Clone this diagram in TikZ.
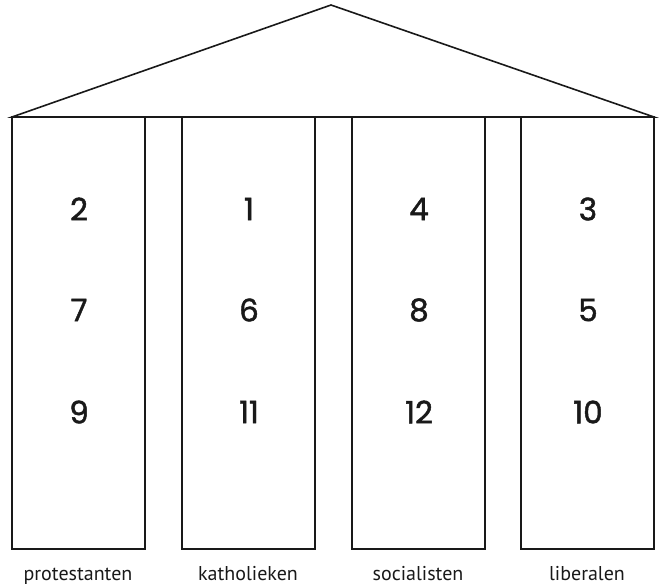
\documentclass[tikz,border=0pt]{standalone}
\usepackage{fontspec}
\setmainfont{PT Sans}
\newfontfamily\numfont{Poppins}[FakeBold=1.5]
\begin{document}
\begin{tikzpicture}[x=1pt,y=-1pt,line width=1.6pt,line join=miter,
  pillar/.style={draw=black!90,line width=1.6pt},
  num/.style={font=\numfont\fontsize{31}{31}\selectfont,text=black!90,anchor=center,inner sep=0pt},
  lab/.style={font=\fontsize{20}{21}\selectfont,text=black!90,anchor=base,inner sep=0pt}]
\useasboundingbox (0,0) rectangle (662,587);
\coordinate (apex) at (331,5);
\coordinate (bl) at (12,117);
\coordinate (br) at (654,117);
\draw[black!90] (bl) -- (apex) -- (br) -- cycle;
\foreach \i/\xx/\a/\b/\c/\l in {1/12/2/7/9/protestanten,2/182/1/6/11/katholieken,3/352/4/8/12/socialisten,4/521/3/5/10/liberalen}{
  \draw[pillar] (\xx,117) rectangle (\xx+133,549);
  \node[num] (n\i a) at (\xx+67,209) {\a};
  \node[num] (n\i b) at (\xx+67,310) {\b};
  \node[num] (n\i c) at (\xx+67,412) {\c};
  \node[lab] (l\i) at (\xx+66,580.5) {\l};
}
\end{tikzpicture}
\end{document}
